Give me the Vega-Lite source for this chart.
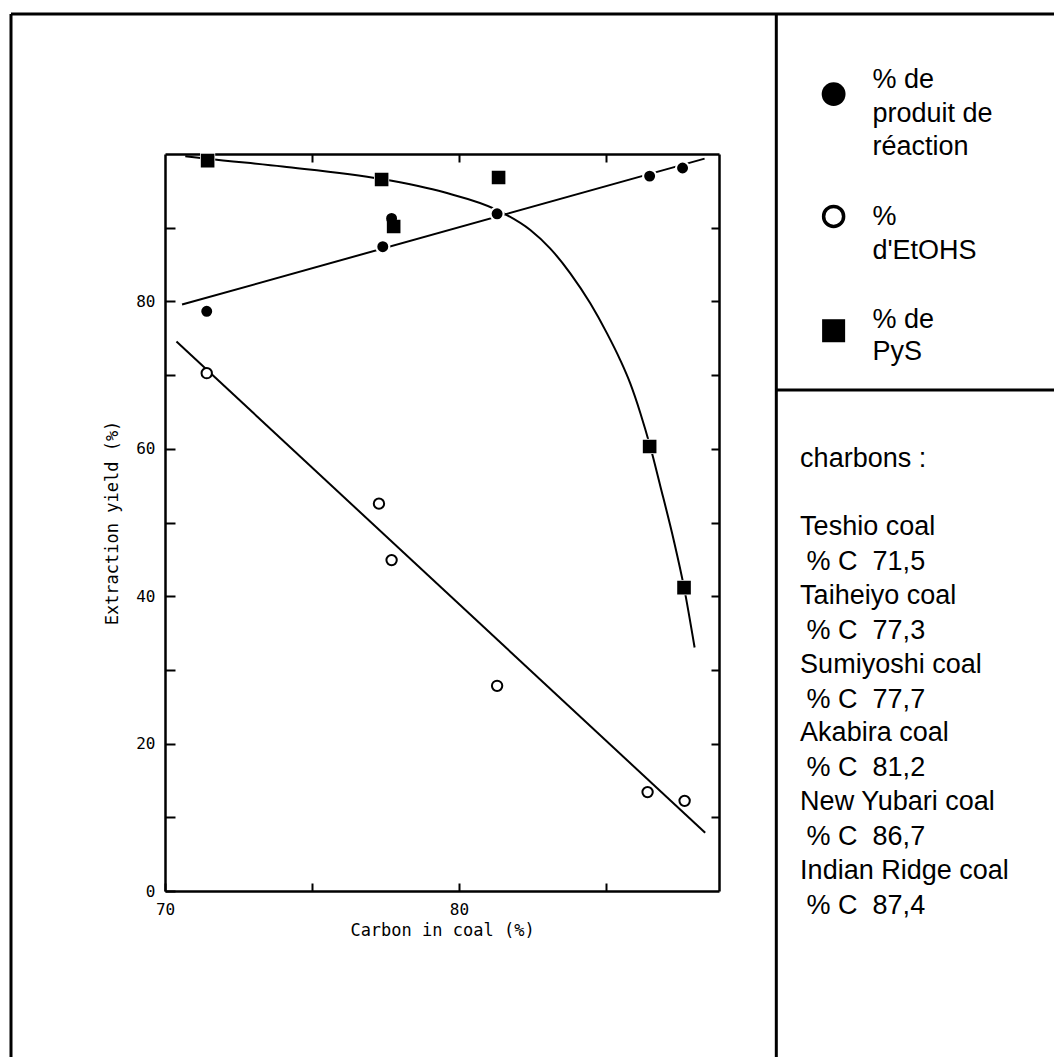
{
  "$schema": "https://vega.github.io/schema/vega-lite/v6.json",
  "width": 554,
  "height": 737,
  "autosize": {"type": "none"},
  "padding": {"left": 165, "top": 154, "right": 335, "bottom": 166},
  "background": "white",
  "config": {
    "view": {"stroke": null},
    "axis": {
      "grid": false,
      "domainColor": "black",
      "domainWidth": 2.5,
      "tickColor": "black",
      "tickWidth": 2,
      "labelColor": "black",
      "titleColor": "black",
      "labelFont": "DejaVu Sans Mono",
      "titleFont": "DejaVu Sans Mono",
      "labelFontSize": 16,
      "titleFontSize": 17,
      "titleFontWeight": "normal"
    }
  },
  "datasets": {
    "points": [
      {"series": "réaction", "coal": "Teshio", "carbon": 71.42, "yield": 78.66},
      {"series": "réaction", "coal": "Taiheiyo", "carbon": 77.41, "yield": 87.42},
      {"series": "réaction", "coal": "Sumiyoshi", "carbon": 77.71, "yield": 91.25},
      {"series": "réaction", "coal": "Akabira", "carbon": 81.30, "yield": 91.89},
      {"series": "réaction", "coal": "New Yubari", "carbon": 86.49, "yield": 97.0},
      {"series": "réaction", "coal": "Indian Ridge", "carbon": 87.61, "yield": 98.1},
      {"series": "PyS", "coal": "Teshio", "carbon": 71.45, "yield": 99.1},
      {"series": "PyS", "coal": "Taiheiyo", "carbon": 77.37, "yield": 96.54},
      {"series": "PyS", "coal": "Sumiyoshi", "carbon": 77.78, "yield": 90.16},
      {"series": "PyS", "coal": "Akabira", "carbon": 81.35, "yield": 96.81},
      {"series": "PyS", "coal": "New Yubari", "carbon": 86.49, "yield": 60.32},
      {"series": "PyS", "coal": "Indian Ridge", "carbon": 87.66, "yield": 41.16},
      {"series": "EtOHS", "coal": "Teshio", "carbon": 71.42, "yield": 70.26},
      {"series": "EtOHS", "coal": "Taiheiyo", "carbon": 77.28, "yield": 52.56},
      {"series": "EtOHS", "coal": "Sumiyoshi", "carbon": 77.71, "yield": 44.9},
      {"series": "EtOHS", "coal": "Akabira", "carbon": 81.30, "yield": 27.84},
      {"series": "EtOHS", "coal": "New Yubari", "carbon": 86.42, "yield": 13.42},
      {"series": "EtOHS", "coal": "Indian Ridge", "carbon": 87.68, "yield": 12.23}
    ],
    "curves": [
      {"curve": "réaction", "carbon": 70.58, "yield": 79.57},
      {"curve": "réaction", "carbon": 88.36, "yield": 99.37},
      {"curve": "EtOHS", "carbon": 70.39, "yield": 74.55},
      {"curve": "EtOHS", "carbon": 88.38, "yield": 7.9},
      {"curve": "PyS", "carbon": 70.69, "yield": 99.7},
      {"curve": "PyS", "carbon": 71.45, "yield": 99.35},
      {"curve": "PyS", "carbon": 74.0, "yield": 98.3},
      {"curve": "PyS", "carbon": 77.37, "yield": 96.6},
      {"curve": "PyS", "carbon": 79.5, "yield": 94.8},
      {"curve": "PyS", "carbon": 81.3, "yield": 92.4},
      {"curve": "PyS", "carbon": 82.43, "yield": 89.68},
      {"curve": "PyS", "carbon": 83.11, "yield": 87.17},
      {"curve": "PyS", "carbon": 83.79, "yield": 83.81},
      {"curve": "PyS", "carbon": 84.47, "yield": 79.74},
      {"curve": "PyS", "carbon": 85.04, "yield": 75.66},
      {"curve": "PyS", "carbon": 85.49, "yield": 72.04},
      {"curve": "PyS", "carbon": 85.83, "yield": 68.87},
      {"curve": "PyS", "carbon": 86.17, "yield": 64.9},
      {"curve": "PyS", "carbon": 86.51, "yield": 60.3},
      {"curve": "PyS", "carbon": 86.85, "yield": 55.0},
      {"curve": "PyS", "carbon": 87.31, "yield": 47.6},
      {"curve": "PyS", "carbon": 87.66, "yield": 41.2},
      {"curve": "PyS", "carbon": 88.02, "yield": 33.04}
    ]
  },
  "layer": [
    {
      "data": {"values": [{}]},
      "mark": {"type": "rule", "color": "black", "strokeWidth": 3, "clip": false},
      "encoding": {
        "x": {"datum": 64.76, "scale": {"domain": [70, 88.85], "nice": false}, "axis": null},
        "x2": {"datum": 101},
        "y": {"datum": 119.0, "scale": {"domain": [0, 100], "nice": false}, "axis": null}
      }
    },
    {
      "data": {"values": [{}]},
      "mark": {"type": "rule", "color": "black", "strokeWidth": 3, "clip": false},
      "encoding": {
        "x": {"datum": 64.76, "scale": {"domain": [70, 88.85], "nice": false}, "axis": null},
        "y": {"datum": 119.0, "scale": {"domain": [0, 100], "nice": false}, "axis": null},
        "y2": {"datum": -25}
      }
    },
    {
      "data": {"values": [{}]},
      "mark": {"type": "rule", "color": "black", "strokeWidth": 3, "clip": false},
      "encoding": {
        "x": {"datum": 90.8, "scale": {"domain": [70, 88.85], "nice": false}, "axis": null},
        "y": {"datum": 119.0, "scale": {"domain": [0, 100], "nice": false}, "axis": null},
        "y2": {"datum": -25}
      }
    },
    {
      "data": {"values": [{}]},
      "mark": {"type": "rule", "color": "black", "strokeWidth": 3, "clip": false},
      "encoding": {
        "x": {"datum": 90.8, "scale": {"domain": [70, 88.85], "nice": false}, "axis": null},
        "x2": {"datum": 101},
        "y": {"datum": 67.98, "scale": {"domain": [0, 100], "nice": false}, "axis": null}
      }
    },
    {
      "data": {"name": "curves"},
      "mark": {"type": "line", "interpolate": "monotone", "strokeWidth": 2, "color": "black"},
      "encoding": {
        "x": {"field": "carbon", "type": "quantitative", "scale": {"domain": [70, 88.85], "nice": false},
          "axis": {"orient": "top", "values": [75, 80, 85], "labels": false, "title": null, "tickSize": -8}},
        "y": {"field": "yield", "type": "quantitative", "scale": {"domain": [0, 100], "nice": false},
          "axis": {"orient": "right", "values": [10, 20, 30, 40, 50, 60, 70, 80, 90], "labels": false, "title": null, "tickSize": -8}},
        "detail": {"field": "curve"}
      }
    },
    {
      "data": {"name": "points"},
      "transform": [{"filter": "datum.series != 'EtOHS'"}],
      "mark": {"type": "point", "filled": true, "color": "white", "size": 230, "opacity": 1},
      "encoding": {
        "x": {"field": "carbon", "type": "quantitative", "scale": {"domain": [70, 88.85], "nice": false}, "axis": null},
        "y": {"field": "yield", "type": "quantitative", "scale": {"domain": [0, 100], "nice": false}, "axis": null},
        "shape": {"field": "series", "scale": {"domain": ["réaction", "EtOHS", "PyS"], "range": ["circle", "circle", "square"]}, "legend": null}
      }
    },
    {
      "data": {"name": "points"},
      "mark": {"type": "point", "filled": true, "strokeWidth": 2, "opacity": 1},
      "encoding": {
        "x": {"field": "carbon", "type": "quantitative", "scale": {"domain": [70, 88.85], "nice": false},
          "axis": {"orient": "bottom", "title": "Carbon in coal (%)", "values": [70, 75, 80, 85],
            "labelExpr": "datum.value == 70 || datum.value == 80 ? datum.label : ''",
            "tickSize": -8, "labelPadding": 18, "labelFlush": false, "titlePadding": 5}},
        "y": {"field": "yield", "type": "quantitative", "scale": {"domain": [0, 100], "nice": false},
          "axis": {"orient": "left", "title": "Extraction yield (%)", "values": [0, 10, 20, 30, 40, 50, 60, 70, 80, 90],
            "labelExpr": "datum.value % 20 == 0 ? datum.label : ''",
            "tickSize": -10, "labelPadding": 20, "titlePadding": 14}},
        "shape": {"field": "series", "scale": {"domain": ["réaction", "EtOHS", "PyS"], "range": ["circle", "circle", "square"]}, "legend": null},
        "fill": {"field": "series", "scale": {"domain": ["réaction", "EtOHS", "PyS"], "range": ["black", "white", "black"]}, "legend": null},
        "size": {"field": "series", "scale": {"domain": ["réaction", "EtOHS", "PyS"], "range": [80, 135, 100]}, "legend": null},
        "stroke": {"value": "black"}
      }
    },
    {
      "data": {"values": [{}]},
      "mark": {"type": "point", "shape": "circle", "filled": true, "color": "black", "size": 570, "opacity": 1, "clip": false},
      "encoding": {
        "x": {"datum": 92.75, "scale": {"domain": [70, 88.85], "nice": false}, "axis": null},
        "y": {"datum": 108.13, "scale": {"domain": [0, 100], "nice": false}, "axis": null}
      }
    },
    {
      "data": {"values": [{}]},
      "mark": {"type": "point", "shape": "circle", "filled": false, "color": "black", "strokeWidth": 3.5, "size": 400, "opacity": 1, "clip": false},
      "encoding": {
        "x": {"datum": 92.75, "scale": {"domain": [70, 88.85], "nice": false}, "axis": null},
        "y": {"datum": 91.53, "scale": {"domain": [0, 100], "nice": false}, "axis": null}
      }
    },
    {
      "data": {"values": [{}]},
      "mark": {"type": "point", "shape": "square", "filled": true, "color": "black", "size": 530, "opacity": 1, "clip": false},
      "encoding": {
        "x": {"datum": 92.75, "scale": {"domain": [70, 88.85], "nice": false}, "axis": null},
        "y": {"datum": 76.02, "scale": {"domain": [0, 100], "nice": false}, "axis": null}
      }
    },
    {
      "data": {"values": [{}]},
      "mark": {"type": "text", "text": ["% de", "produit de", "réaction"], "align": "left", "baseline": "alphabetic", "font": "Liberation Sans", "fontSize": 27, "lineHeight": 33.4, "color": "black", "clip": false},
      "encoding": {
        "x": {"datum": 94.07, "scale": {"domain": [70, 88.85], "nice": false}, "axis": null},
        "y": {"datum": 108.91, "scale": {"domain": [0, 100], "nice": false}, "axis": null}
      }
    },
    {
      "data": {"values": [{}]},
      "mark": {"type": "text", "text": ["%", "d'EtOHS"], "align": "left", "baseline": "alphabetic", "font": "Liberation Sans", "fontSize": 27, "lineHeight": 33.6, "color": "black", "clip": false},
      "encoding": {
        "x": {"datum": 94.07, "scale": {"domain": [70, 88.85], "nice": false}, "axis": null},
        "y": {"datum": 90.31, "scale": {"domain": [0, 100], "nice": false}, "axis": null}
      }
    },
    {
      "data": {"values": [{}]},
      "mark": {"type": "text", "text": ["% de", "PyS"], "align": "left", "baseline": "alphabetic", "font": "Liberation Sans", "fontSize": 27, "lineHeight": 32.3, "color": "black", "clip": false},
      "encoding": {
        "x": {"datum": 94.07, "scale": {"domain": [70, 88.85], "nice": false}, "axis": null},
        "y": {"datum": 76.44, "scale": {"domain": [0, 100], "nice": false}, "axis": null}
      }
    },
    {
      "data": {"values": [{}]},
      "mark": {"type": "text", "text": "charbons :", "align": "left", "baseline": "alphabetic", "font": "Liberation Sans", "fontSize": 27, "color": "black", "clip": false},
      "encoding": {
        "x": {"datum": 91.61, "scale": {"domain": [70, 88.85], "nice": false}, "axis": null},
        "y": {"datum": 57.53, "scale": {"domain": [0, 100], "nice": false}, "axis": null}
      }
    },
    {
      "data": {"values": [{}]},
      "mark": {"type": "text", "text": ["Teshio coal", "Taiheiyo coal", "Sumiyoshi coal", "Akabira coal", "New Yubari coal", "Indian Ridge coal"], "align": "left", "baseline": "alphabetic", "font": "Liberation Sans", "fontSize": 27, "lineHeight": 68.8, "color": "black", "clip": false},
      "encoding": {
        "x": {"datum": 91.61, "scale": {"domain": [70, 88.85], "nice": false}, "axis": null},
        "y": {"datum": 48.3, "scale": {"domain": [0, 100], "nice": false}, "axis": null}
      }
    },
    {
      "data": {"values": [{}]},
      "mark": {"type": "text", "text": ["% C\u00a0\u00a071,5", "% C\u00a0\u00a077,3", "% C\u00a0\u00a077,7", "% C\u00a0\u00a081,2", "% C\u00a0\u00a086,7", "% C\u00a0\u00a087,4"], "align": "left", "baseline": "alphabetic", "font": "Liberation Sans", "fontSize": 27, "lineHeight": 68.8, "color": "black", "clip": false},
      "encoding": {
        "x": {"datum": 91.83, "scale": {"domain": [70, 88.85], "nice": false}, "axis": null},
        "y": {"datum": 43.56, "scale": {"domain": [0, 100], "nice": false}, "axis": null}
      }
    }
  ],
  "resolve": {"axis": {"x": "independent", "y": "independent"}}
}
